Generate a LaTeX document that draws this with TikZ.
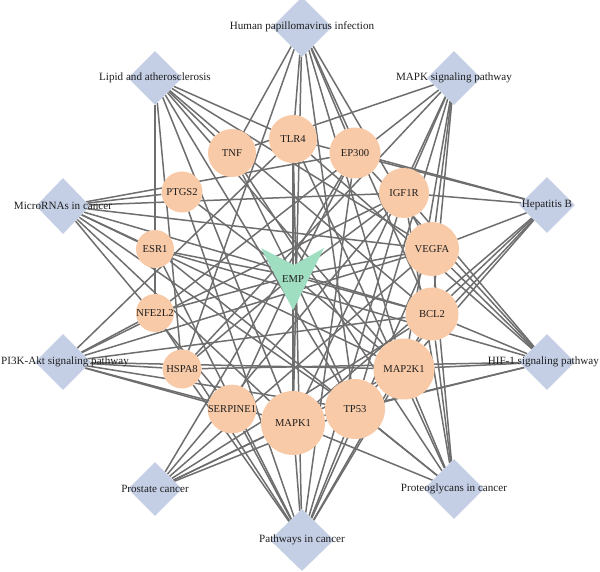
\documentclass[tikz,border=0pt]{standalone}
\usepackage{fontspec}
\setmainfont{Liberation Serif}
\usetikzlibrary{shapes.geometric,backgrounds}
\definecolor{pwc}{RGB}{196,207,229}
\definecolor{gnc}{RGB}{249,202,167}
\definecolor{empc}{RGB}{160,222,194}
\definecolor{edgec}{RGB}{110,110,110}
\definecolor{txtc}{RGB}{30,30,30}
\begin{document}
\begin{tikzpicture}[x=1pt,y=-1pt,
  pw/.style={diamond, shape aspect=1, fill=pwc, draw=none, inner sep=0pt},
  gn/.style={circle, fill=gnc, draw=none, inner sep=0pt, font=\fontsize{10.6}{12}\selectfont, text=txtc},
  lbl/.style={font=\fontsize{11.1}{13}\selectfont, text=txtc, inner sep=0pt},
  edge/.style={draw=edgec, line width=1.5pt}]
\useasboundingbox (0,0) rectangle (600,572);
% pathways
\node[pw, minimum width=60pt, minimum height=60pt] (hpv) at (302,27) {};
\node[pw, minimum width=54pt, minimum height=54pt] (lipid) at (155,78) {};
\node[pw, minimum width=54pt, minimum height=54pt] (mapkp) at (454,78) {};
\node[pw, minimum width=54pt, minimum height=56pt] (mirna) at (63,206) {};
\node[pw, minimum width=56pt, minimum height=56pt] (hepb) at (547,205) {};
\node[pw, minimum width=56pt, minimum height=56pt] (pi3k) at (63,362) {};
\node[pw, minimum width=56pt, minimum height=56pt] (hif1) at (547,362) {};
\node[pw, minimum width=54pt, minimum height=54pt] (prostate) at (155,489) {};
\node[pw, minimum width=60pt, minimum height=60pt] (proteo) at (454,489) {};
\node[pw, minimum width=64pt, minimum height=62pt] (pic) at (302,540) {};
% genes
\node[gn, minimum size=48pt] (tnf) at (232,153) {TNF};
\node[gn, minimum size=48pt] (tlr4) at (293,139) {TLR4};
\node[gn, minimum size=51pt] (ep300) at (355,153) {EP300};
\node[gn, minimum size=50pt] (igf1r) at (404,193) {IGF1R};
\node[gn, minimum size=54pt] (vegfa) at (432,249) {VEGFA};
\node[gn, minimum size=53pt] (bcl2) at (432,314) {BCL2};
\node[gn, minimum size=61pt] (map2k1) at (404,369) {MAP2K1};
\node[gn, minimum size=60pt] (tp53) at (355,409) {TP53};
\node[gn, minimum size=64pt] (mapk1) at (293,423) {MAPK1};
\node[gn, minimum size=35pt] (serpine1) at (232,409) {SERPINE1};
\node[gn, minimum size=39pt] (hspa8) at (182,369) {HSPA8};
\node[gn, minimum size=38pt] (nfe2l2) at (155,313) {NFE2L2};
\node[gn, minimum size=38pt] (esr1) at (155,249) {ESR1};
\node[gn, minimum size=41pt] (ptgs2) at (182,192) {PTGS2};
% EMP
\coordinate (emp) at (293,276);
\fill[empc] (261,248) -- (294,265) -- (324,248) -- (293,310) -- cycle;
\node[lbl, font=\fontsize{10.6}{12}\selectfont] (emplbl) at (293,279) {EMP};
% edges
\begin{scope}[on background layer]
\foreach \p/\gs in {
  hpv/{tnf,hspa8,tlr4,mapk1,tp53,map2k1,ep300,bcl2,vegfa},
  lipid/{esr1,nfe2l2,hspa8,mapk1,tp53,map2k1,bcl2,tnf,tlr4,vegfa},
  mapkp/{tnf,nfe2l2,hspa8,mapk1,tp53,map2k1,bcl2,vegfa,igf1r},
  mirna/{ptgs2,ep300,igf1r,vegfa,bcl2,esr1,map2k1,tp53,mapk1,serpine1},
  hepb/{tlr4,ep300,igf1r,vegfa,bcl2,map2k1,tp53,mapk1},
  pi3k/{tlr4,nfe2l2,igf1r,vegfa,bcl2,hspa8,map2k1,tp53,mapk1,serpine1},
  hif1/{tlr4,ep300,igf1r,vegfa,bcl2,esr1,map2k1,hspa8,tp53,mapk1},
  prostate/{ep300,igf1r,vegfa,bcl2,map2k1,tp53,mapk1},
  proteo/{tnf,tlr4,esr1,vegfa,igf1r,bcl2,map2k1,tp53,mapk1},
  pic/{ptgs2,nfe2l2,hspa8,esr1,serpine1,tlr4,ep300,igf1r,vegfa,bcl2,map2k1,tp53,mapk1},
  emp/{tnf,tlr4,ep300,igf1r,vegfa,bcl2,map2k1,tp53,mapk1,serpine1,hspa8,nfe2l2,esr1,ptgs2}}
  {\foreach \g in \gs {\draw[edge] (\p) -- (\g);}}
\end{scope}
% pathway labels
\node[lbl] (hpvl) at (hpv) {Human papillomavirus infection};
\node[lbl] (lipidl) at (lipid) {Lipid and atherosclerosis};
\node[lbl] (mapkl) at (mapkp) {MAPK signaling pathway};
\node[lbl] (mirnal) at (mirna) {MicroRNAs in cancer};
\node[lbl] (hepbl) at (hepb) {Hepatitis B};
\node[lbl, anchor=west] (pi3kl) at (1,362) {PI3K-Akt signaling pathway};
\node[lbl, anchor=east] (hif1l) at (599,362) {HIF-1 signaling pathway};
\node[lbl] (prostatel) at (prostate) {Prostate cancer};
\node[lbl] (proteol) at (proteo) {Proteoglycans in cancer};
\node[lbl] (picl) at (pic) {Pathways in cancer};
\end{tikzpicture}
\end{document}
